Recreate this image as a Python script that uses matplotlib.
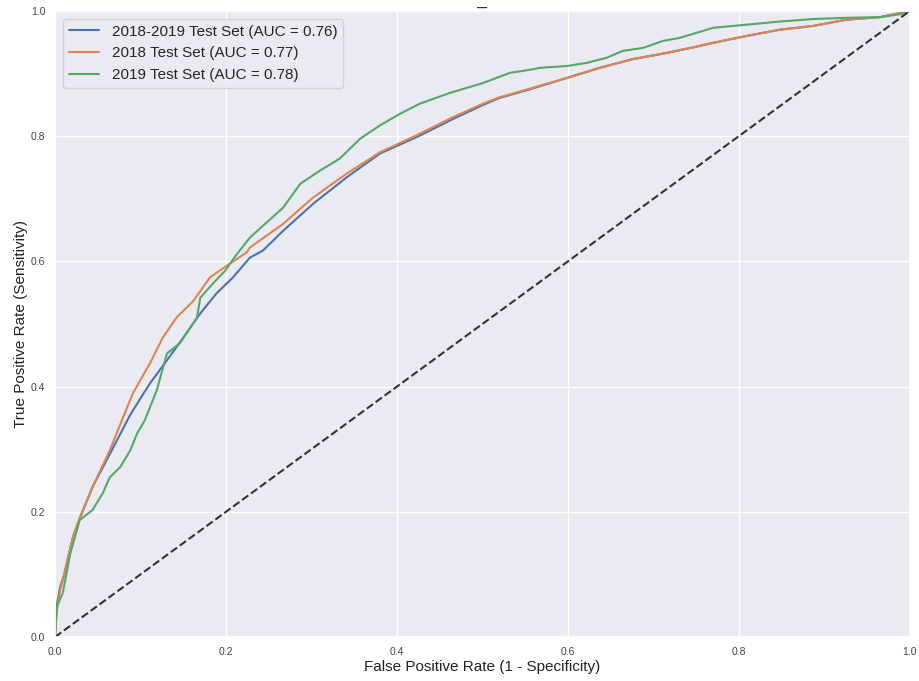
import numpy as np
import matplotlib
matplotlib.use('Agg')
import matplotlib.pyplot as plt
import seaborn as sns

sns.set_theme(style='darkgrid')
plt.rcParams['font.family'] = ['Liberation Sans', 'DejaVu Sans']

# ROC points
fpr_all = [0.0, 0.002, 0.006, 0.010, 0.021, 0.029, 0.044, 0.064, 0.088, 0.111, 0.131,
           0.150, 0.170, 0.189, 0.208, 0.228, 0.243, 0.267, 0.302, 0.341, 0.380,
           0.427, 0.462, 0.501, 0.520, 0.556, 0.599, 0.637, 0.676, 0.716, 0.754,
           0.770, 0.809, 0.848, 0.887, 0.926, 0.965, 1.0]
tpr_all = [0.0, 0.05, 0.08, 0.096, 0.16, 0.19, 0.24, 0.292, 0.355, 0.405, 0.442,
           0.478, 0.517, 0.549, 0.574, 0.606, 0.617, 0.649, 0.692, 0.734, 0.772,
           0.801, 0.825, 0.850, 0.861, 0.875, 0.893, 0.909, 0.923, 0.933, 0.944,
           0.949, 0.960, 0.970, 0.976, 0.986, 0.990, 1.0]

fpr_2018 = [0.0, 0.002, 0.006, 0.010, 0.021, 0.029, 0.044, 0.064, 0.091, 0.111, 0.126,
            0.142, 0.162, 0.181, 0.201, 0.224, 0.228, 0.267, 0.302, 0.341, 0.380,
            0.427, 0.462, 0.501, 0.520, 0.556, 0.599, 0.637, 0.676, 0.716, 0.754,
            0.770, 0.809, 0.848, 0.887, 0.926, 0.965, 1.0]
tpr_2018 = [0.0, 0.04, 0.075, 0.096, 0.16, 0.19, 0.24, 0.298, 0.389, 0.437, 0.478,
            0.510, 0.537, 0.574, 0.593, 0.614, 0.622, 0.660, 0.702, 0.740, 0.774,
            0.804, 0.828, 0.852, 0.862, 0.876, 0.893, 0.909, 0.923, 0.933, 0.944,
            0.949, 0.960, 0.970, 0.976, 0.986, 0.990, 1.0]

fpr_2019 = [0.0, 0.002, 0.009, 0.018, 0.029, 0.044, 0.056, 0.064, 0.076, 0.088, 0.096,
            0.105, 0.119, 0.131, 0.146, 0.166, 0.170, 0.185, 0.199, 0.213, 0.228,
            0.267, 0.287, 0.310, 0.333, 0.357, 0.380, 0.404, 0.427, 0.462, 0.501,
            0.532, 0.556, 0.567, 0.599, 0.622, 0.645, 0.664, 0.688, 0.711, 0.731,
            0.770, 0.809, 0.848, 0.887, 0.926, 0.965, 0.990, 1.0]
tpr_2019 = [0.0, 0.048, 0.07, 0.134, 0.187, 0.203, 0.23, 0.255, 0.271, 0.298, 0.325,
            0.346, 0.394, 0.453, 0.469, 0.510, 0.542, 0.565, 0.585, 0.612, 0.638,
            0.686, 0.724, 0.745, 0.764, 0.796, 0.817, 0.836, 0.852, 0.869, 0.885,
            0.901, 0.906, 0.909, 0.912, 0.917, 0.925, 0.936, 0.941, 0.952, 0.957,
            0.973, 0.978, 0.983, 0.987, 0.989, 0.990, 0.995, 1.0]

labels = ['2018-2019 Test Set (AUC = 0.76)',
          '2018 Test Set (AUC = 0.77)',
          '2019 Test Set (AUC = 0.78)']
colors = ['#4C72B0', '#DD8452', '#55A868']


def main():
    fig = plt.figure(figsize=(9.2, 6.81), dpi=100)
    ax = fig.add_axes([0.0598, 0.0646, 0.9292, 0.9194])

    curves = [(fpr_all, tpr_all), (fpr_2018, tpr_2018), (fpr_2019, tpr_2019)]
    for (x, y), label, c in zip(curves, labels, colors):
        ax.plot(x, y, color=c, lw=1.5, label=label)

    ax.plot([0, 1], [0, 1], '--', lw=1.5, color='#333333')

    ax.set_xlim(0, 1)
    ax.set_ylim(0, 1)
    ax.set_xticks(np.arange(0, 1.01, 0.2))
    ax.set_yticks(np.arange(0, 1.01, 0.2))
    ax.tick_params(labelsize=7.5, labelcolor='#444444', pad=1)

    ax.set_xlabel('False Positive Rate (1 - Specificity)', fontsize=11, color='#222222', labelpad=2)
    ax.set_ylabel('True Positive Rate (Sensitivity)', fontsize=11, color='#222222', labelpad=2)
    # the small dash that stands in for a title
    ax.text(0.5, 1.005, '\u2013', transform=ax.transAxes, ha='center', va='center',
            fontsize=13, color='#333333')

    ax.legend(loc='upper left', fontsize=11, frameon=True)

    fig.savefig('out.png', dpi=100)


if __name__ == '__main__':
    main()
